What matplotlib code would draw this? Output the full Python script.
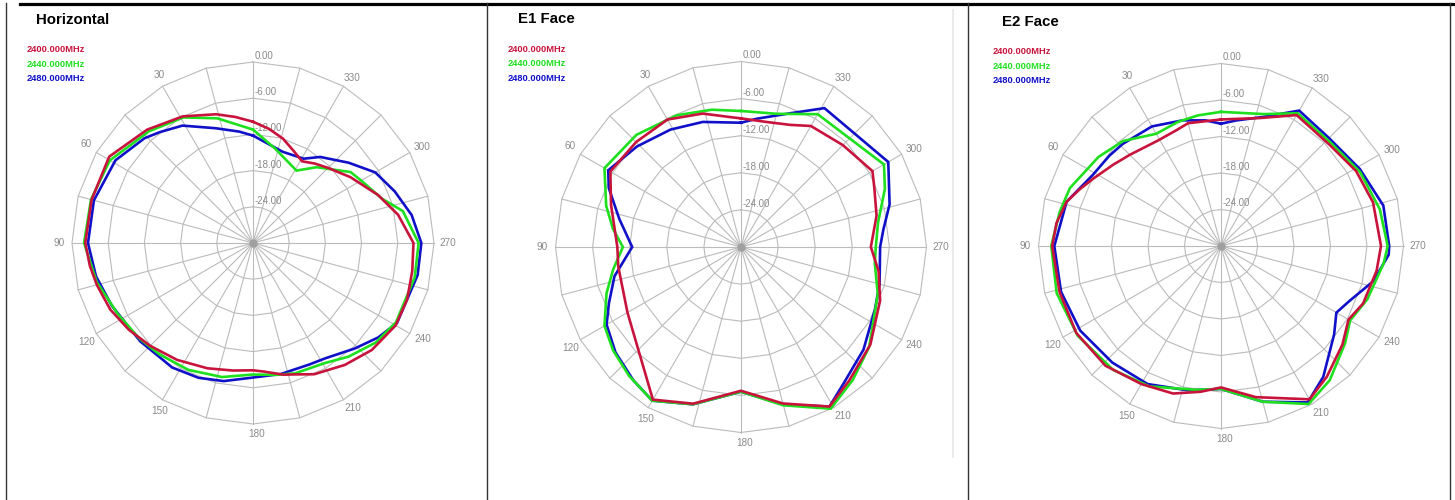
import numpy as np
import matplotlib.pyplot as plt
from matplotlib.lines import Line2D

W, H = 1455, 500

# angles in degrees, counter-clockwise from the top; levels in dB
h_ang_2400 = [0, 8, 16, 29, 43, 59, 75, 90, 98, 105, 115, 125, 135, 147, 160, 171, 180, 185, 193, 198,
              205, 217, 228, 240, 250, 260, 270, 281, 291, 304, 315, 322, 329, 337, 344, 352]
h_db_2400 = [-9.9, -8.9, -7.8, -6.0, -4.3, -2.2, -2.3, -2.2, -2.7, -3.2, -3.9, -4.9, -5.9, -6.9, -7.9, -8.6,
             -8.9, -8.6, -7.6, -7.1, -6.0, -4.7, -3.5, -2.7, -2.8, -3.2, -3.4, -5.5, -7.8, -10.5, -12.4,
             -13.3, -14.2, -13.2, -12.0, -10.9]
h_ang_2440 = [0, 16, 29, 43, 60, 75, 90, 104, 118, 130, 140, 153, 167, 180, 190, 198, 211, 220, 231, 241,
              258, 270, 282, 289, 300, 306, 320, 329, 347]
h_db_2440 = [-11.2, -8.5, -6.2, -4.7, -2.6, -2.2, -2.0, -3.3, -4.7, -5.4, -5.9, -6.4, -7.2, -8.2, -7.8,
             -7.3, -6.8, -5.4, -3.8, -2.9, -2.6, -2.55, -4.6, -7.4, -9.3, -10.0, -13.6, -16.0, -13.9]
h_ang_2480 = [0, 7, 18, 31, 40, 46, 59, 75, 90, 102, 114, 131, 147, 158, 168, 180, 192, 205, 212, 224,
              233, 241, 259, 270, 280, 290, 300, 310, 322, 329, 342, 352]
h_db_2480 = [-12.2, -11.4, -10.0, -7.3, -6.0, -5.0, -3.4, -2.7, -2.65, -3.4, -4.4, -5.2, -5.4, -5.9, -6.6,
             -7.7, -7.8, -7.8, -7.45, -5.7, -4.0, -2.7, -2.2, -2.1, -3.3, -5.0, -6.6, -9.3, -11.9, -13.7,
             -14.1, -13.3]

e1_ang_2400 = [0, 5, 16, 30, 45, 60, 72, 90, 99, 120, 150, 163, 180, 195, 209, 219, 233, 249, 260, 270,
               283, 294, 300, 315, 330, 338, 348]
e1_db_2400 = [-9.2, -8.9, -7.55, -6.2, -6.0, -5.6, -7.9, -10.0, -9.9, -8.8, -1.5, -3.5, -6.75, -3.8, -0.5,
              -2.2, -3.8, -5.9, -7.4, -9.0, -7.5, -6.4, -5.45, -6.7, -7.4, -8.7, -9.35]
e1_ang_2440 = [0, 12, 26, 43, 60, 73, 82, 90, 100, 109, 120, 129, 139, 150, 163, 180, 195, 209, 220, 232,
               251, 263, 270, 280, 292, 300, 330, 345]
e1_db_2440 = [-8.0, -7.3, -6.3, -5.2, -4.5, -7.2, -9.1, -10.9, -9.0, -7.0, -4.5, -3.4, -2.4, -1.3, -3.4,
              -6.6, -3.5, -0.1, -1.9, -3.7, -6.6, -8.2, -8.2, -7.5, -4.9, -3.3, -5.2, -7.7]
e1_ang_2480 = [0, 17, 31, 46, 60, 66, 77, 90, 103, 113, 120, 130, 141, 150, 163, 180, 195, 209, 217, 230,
               245, 255, 270, 277, 286, 300, 329, 340, 353]
e1_db_2480 = [-9.9, -8.85, -7.85, -6.6, -5.2, -6.6, -9.8, -12.4, -9.0, -6.8, -4.9, -3.5, -2.3, -1.3, -3.4,
              -6.6, -3.6, -0.5, -2.4, -4.15, -6.1, -6.8, -7.5, -6.8, -5.0, -2.5, -3.8, -7.0, -9.1]

e2_ang_2400 = [0, 15, 21, 31, 45, 53, 62, 68, 74, 82, 90, 106, 121, 136, 150, 162, 172, 180, 193, 210,
               219, 231, 240, 248, 261, 270, 286, 299, 313, 330, 343]
e2_db_2400 = [-9.2, -9.1, -9.6, -9.8, -8.8, -7.8, -6.3, -5.0, -3.6, -2.7, -2.25, -2.4, -2.25, -2.65, -3.8,
              -4.5, -5.8, -6.75, -4.5, -0.9, -2.35, -4.3, -5.8, -4.8, -4.1, -3.7, -4.0, -4.6, -5.6, -5.15,
              -8.0]
e2_ang_2440 = [0, 10, 19, 30, 43, 54, 69, 78, 90, 106, 122, 139, 153, 170, 180, 195, 209, 219, 232, 240,
               250, 264, 270, 283, 298, 314, 330, 342]
e2_db_2440 = [-7.95, -8.2, -8.4, -8.7, -6.4, -5.1, -3.4, -2.9, -2.1, -1.9, -2.2, -3.0, -4.1, -6.0, -6.5,
              -3.5, -0.3, -1.6, -4.1, -5.5, -4.4, -3.1, -2.6, -3.2, -4.1, -5.25, -4.8, -7.2]
e2_ang_2480 = [0, 7, 17, 30, 44, 51, 61, 74, 90, 106, 121, 137, 152, 167, 180, 195, 209, 218, 232, 240,
               247, 257, 267, 270, 284, 299, 315, 330, 342, 353]
e2_db_2480 = [-9.9, -9.2, -8.4, -7.3, -6.7, -6.4, -5.9, -3.6, -2.6, -2.65, -3.0, -3.8, -4.3, -5.65, -6.5,
              -3.5, -0.6, -2.7, -6.4, -8.1, -7.0, -4.3, -2.4, -2.35, -2.5, -3.9, -4.9, -4.3, -7.7, -9.2]

freqs = ["2400.000MHz", "2440.000MHz", "2480.000MHz"]
colors = ["#c8143c", "#1ee01e", "#1010c8"]
titles = ["Horizontal", "E1 Face", "E2 Face"]
ring_db = [0, -6, -12, -18, -24]
ring_labels = ["0.00", "-6.00", "-12.00", "-18.00", "-24.00"]
angle_ticks = [30, 60, 90, 120, 150, 180, 210, 240, 270, 300, 330]
DB_MIN = -30.0

plt.rcParams["font.family"] = ["Liberation Sans", "DejaVu Sans"]
GRID = "#bbbbbb"
LABEL = "#8a8a8a"

fig = plt.figure(figsize=(W / 100, H / 100), dpi=100)
fig.patch.set_facecolor("white")


def to_xy(ang, db):
    a = np.radians(np.asarray(ang, float))
    r = np.clip((np.asarray(db, float) - DB_MIN) / -DB_MIN, 0, None)
    return -r * np.sin(a), r * np.cos(a)


def polar_panel(cx, cy, R, series):
    S = R + 45
    ax = fig.add_axes([(cx - S) / W, (H - cy - S) / H, 2 * S / W, 2 * S / H])
    lim = S / R
    ax.set_xlim(-lim, lim)
    ax.set_ylim(-lim, lim)
    ax.axis("off")
    px = 1.0 / R

    # polygon rings and spokes
    ga = np.arange(0, 361, 15)
    for d in ring_db:
        x, y = to_xy(ga, np.full(ga.shape, d, float))
        ax.plot(x, y, color=GRID, lw=0.8, zorder=1)
    for a in ga[:-1]:
        x, y = to_xy([a, a], [DB_MIN, 0])
        ax.plot(x, y, color=GRID, lw=0.8, zorder=1)
    ax.plot(0, 0, "o", ms=5, color="#a0a0a0", zorder=2)

    # radial labels
    for d, lab in zip(ring_db, ring_labels):
        r = (d - DB_MIN) / -DB_MIN
        ax.text(2 * px, r + 6 * px, lab, color=LABEL, fontsize=7.0,
                ha="left", va="center", zorder=2)

    # angle labels
    for a in angle_ticks:
        t = np.radians(a)
        off = 10 + 7 * max(0.0, np.sin(t))
        rr = 1 + off * px
        ax.text(-rr * np.sin(t) + 4 * px, rr * np.cos(t), str(a), color=LABEL,
                fontsize=7.2, ha="center", va="center")

    # pattern curves (blue first, red on top)
    for (ang, db), c in reversed(list(zip(series, colors))):
        ang = list(ang) + [ang[0] + 360]
        db = list(db) + [db[0]]
        x, y = to_xy(ang, db)
        ax.plot(x, y, color=c, lw=1.9, zorder=3, solid_joinstyle="miter")
    return ax


panels = [
    (253, 243, 181.0, [(h_ang_2400, h_db_2400), (h_ang_2440, h_db_2440), (h_ang_2480, h_db_2480)]),
    (741, 247, 185.5, [(e1_ang_2400, e1_db_2400), (e1_ang_2440, e1_db_2440), (e1_ang_2480, e1_db_2480)]),
    (1221, 246, 182.5, [(e2_ang_2400, e2_db_2400), (e2_ang_2440, e2_db_2440), (e2_ang_2480, e2_db_2480)]),
]
title_pos = [(36, 20), (518, 19), (1002, 22)]
legend_pos = [(27, 50), (508, 49.5), (993, 52)]

for (cx, cy, R, series), title, (tx, ty), (lx, ly) in zip(panels, titles, title_pos, legend_pos):
    polar_panel(cx, cy, R, series)
    fig.text(tx / W, 1 - ty / H, title, fontsize=10.8, fontweight="bold", va="center", ha="left")
    for i, (f, c) in enumerate(zip(freqs, colors)):
        fig.text(lx / W, 1 - (ly + 14.3 * i) / H, f, color=c, fontsize=6.7,
                 fontweight="bold", va="center", ha="left")


def fig_line(x0, y0, x1, y1, **kw):
    fig.add_artist(Line2D([x0 / W, x1 / W], [1 - y0 / H, 1 - y1 / H],
                          transform=fig.transFigure, **kw))


# table frame
fig_line(20, 3.5, W, 3.5, color="black", lw=2.3)
fig_line(5.5, 3, 5.5, H, color="#333333", lw=1.0)
fig_line(487.5, 3, 487.5, H, color="#333333", lw=1.0)
fig_line(967.5, 3, 967.5, H, color="#333333", lw=1.0)
fig_line(1449.5, 3, 1449.5, H, color="#333333", lw=1.0)
fig_line(953, 10, 953, 457, color="#e6e6e6", lw=1.2)

fig.savefig("out.png", dpi=100, facecolor="white")
